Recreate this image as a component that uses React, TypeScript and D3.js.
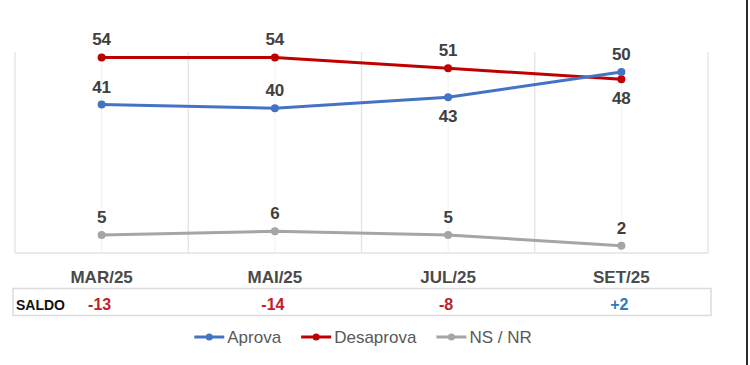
import { useEffect, useRef } from 'react';
import * as d3 from 'd3';

const months = ['MAR/25', 'MAI/25', 'JUL/25', 'SET/25'];
const aprova = [41, 40, 43, 50];
const desaprova = [54, 54, 51, 48];
const nsnr = [5, 6, 5, 2];
const saldo = ['-13', '-14', '-8', '+2'];
// which data labels sit under the point
const aprovaBelow = [false, false, true, false];
const desaprovaBelow = [false, false, false, true];

const series = [
  { name: 'Aprova', values: aprova, color: '#4472C4', below: aprovaBelow },
  { name: 'Desaprova', values: desaprova, color: '#C00000', below: desaprovaBelow },
  { name: 'NS / NR', values: nsnr, color: '#A5A5A5', below: [false, false, false, false] },
];

const App = () => {
  const chartRef = useRef<SVGSVGElement>(null);

  useEffect(() => {
    const svg = d3.select(chartRef.current);
    svg.selectAll('*').remove();

    const left = 15, right = 708, top = 52, bottom = 253;
    const font = '"Liberation Sans", Arial, sans-serif';

    const x = d3.scaleBand().domain(months).range([left, right]);
    const y = d3.scaleLinear().domain([0, 55.5]).range([bottom, top]);
    const cx = (m: string) => (x(m) as number) + x.bandwidth() / 2;

    svg.append('rect').attr('width', 750).attr('height', 365).attr('fill', '#fff');

    // frame from the screenshot
    svg.append('rect').attr('x', 746).attr('y', 0).attr('width', 2).attr('height', 365).attr('fill', '#2b2b2b');

    // faint lines at category centres
    svg.append('g').selectAll('line').data(months).join('line')
      .attr('x1', d => cx(d)).attr('x2', d => cx(d))
      .attr('y1', top).attr('y2', bottom)
      .attr('stroke', '#f2f2f2').attr('stroke-width', 1);

    // category separators + borders
    const edges = months.map(m => x(m) as number).concat([right]);
    svg.append('g').selectAll('line').data(edges).join('line')
      .attr('x1', d => d).attr('x2', d => d)
      .attr('y1', top).attr('y2', bottom)
      .attr('stroke', '#e3e3e3').attr('stroke-width', 1.3);

    svg.append('line')
      .attr('x1', left).attr('x2', right).attr('y1', bottom).attr('y2', bottom)
      .attr('stroke', '#e3e3e3').attr('stroke-width', 1.5);

    const line = d3.line<number>()
      .x((d, i) => cx(months[i]))
      .y(d => y(d));

    series.slice().reverse().forEach(s => {
      svg.append('path')
        .datum(s.values)
        .attr('fill', 'none')
        .attr('stroke', s.color)
        .attr('stroke-width', 3)
        .attr('d', line);

      svg.append('g').selectAll('circle').data(s.values).join('circle')
        .attr('cx', (d, i) => cx(months[i]))
        .attr('cy', d => y(d))
        .attr('r', 4)
        .attr('fill', s.color);
    });

    series.forEach(s => {
      svg.append('g').selectAll('text').data(s.values).join('text')
        .attr('x', (d, i) => cx(months[i]))
        .attr('y', (d, i) => s.below[i] ? y(d) + 25 : y(d) - 12)
        .attr('text-anchor', 'middle')
        .attr('font-family', font)
        .attr('font-weight', 'bold')
        .attr('font-size', 17)
        .attr('fill', '#404040')
        .text(d => d);
    });

    // category labels
    svg.append('g').selectAll('text').data(months).join('text')
      .attr('x', d => cx(d))
      .attr('y', 283)
      .attr('text-anchor', 'middle')
      .attr('font-family', font)
      .attr('font-weight', 'bold')
      .attr('font-size', 17)
      .attr('fill', '#4a4a4a')
      .text(d => d);

    // saldo row
    svg.append('rect')
      .attr('x', 13).attr('y', 288.5).attr('width', 698).attr('height', 27)
      .attr('fill', '#fff').attr('stroke', '#dcdcdc').attr('stroke-width', 1.5);

    svg.append('text')
      .attr('x', 16).attr('y', 310)
      .attr('font-family', font).attr('font-weight', 'bold').attr('font-size', 14)
      .attr('fill', '#111')
      .text('SALDO');

    svg.append('g').selectAll('text').data(saldo).join('text')
      .attr('x', (d, i) => cx(months[i]) - 2)
      .attr('y', 310)
      .attr('text-anchor', 'middle')
      .attr('font-family', font)
      .attr('font-weight', 'bold')
      .attr('font-size', 16)
      .attr('fill', d => d.startsWith('+') ? '#2E7BC0' : '#C0202A')
      .text(d => d);

    // legend
    const legend = svg.append('g');
    let pos = 0;
    series.forEach(s => {
      const g = legend.append('g').attr('transform', `translate(${pos},0)`);
      g.append('line').attr('x1', 0).attr('x2', 30).attr('y1', 337).attr('y2', 337)
        .attr('stroke', s.color).attr('stroke-width', 3);
      g.append('circle').attr('cx', 15).attr('cy', 337).attr('r', 3.5).attr('fill', s.color);
      const t = g.append('text')
        .attr('x', 33).attr('y', 343)
        .attr('font-family', font).attr('font-size', 17)
        .attr('fill', '#595959')
        .text(s.name);
      const w = (t.node() as SVGTextElement).getComputedTextLength();
      pos += 33 + w + 20;
    });
    const total = pos - 20;
    legend.attr('transform', `translate(${363 - total / 2},0)`);
  }, []);

  return <svg ref={chartRef} width={750} height={365} style={{ display: 'block', position: 'absolute', left: 0, top: 0 }}></svg>;
};

export default App;
